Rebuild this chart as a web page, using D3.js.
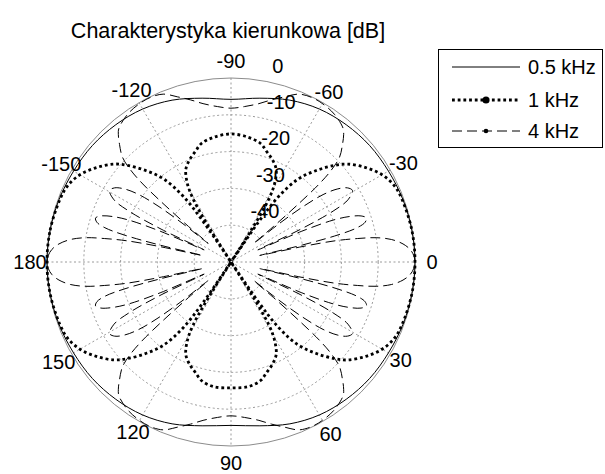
<!DOCTYPE html>
<html>
<head>
<meta charset="utf-8">
<script src="https://cdn.jsdelivr.net/npm/d3@7"></script>
<style>
  html, body { margin: 0; padding: 0; background: #fff; }
  svg { display: block; }
  text { font-family: "Liberation Sans", Arial, sans-serif; fill: #000; }
</style>
</head>
<body>
<svg id="chart" width="605" height="474"></svg>
<script>
// ---------------- data ----------------
const chartTitle = "Charakterystyka kierunkowa [dB]";
const seriesNames = ["0.5 kHz", "1 kHz", "4 kHz"];

// angle in degrees (0 = right, positive = clockwise), level in dB
const angles05k = [-180,-170,-160,-150,-140,-130,-120,-110,-100,-90,-80,-70,-60,-50,-40,-30,-20,-10,0,10,20,30,40,50,60,70,80,90,100,110,120,130,140,150,160,170];
const db05k = [0,-0.1,-0.3,-0.6,-0.8,-1.3,-2.0,-3.2,-4.8,-5.8,-4.8,-3.2,-2.0,-1.3,-0.8,-0.6,-0.3,-0.1,0,-0.1,-0.3,-0.6,-0.8,-1.3,-2.0,-3.2,-4.8,-5.6,-4.8,-3.2,-2.0,-1.3,-0.8,-0.6,-0.3,-0.1];

const angles1k = [-180,-170,-160,-155,-150,-145,-140,-137,-133,-129,-126,-124.5,-123.5,-122.5,-121,-119,-116,-112,-108,-104,-98,-90,
  -82,-76,-72,-68,-64,-61,-59,-57.5,-56.5,-55.5,-54,-51,-47,-43,-40,-35,-30,-25,-20,-10,0,
  10,20,25,30,35,40,43,47,51,54,55.5,56.5,57.5,59,61,64,68,72,76,82,90,
  98,104,108,112,116,119,121,122.5,123.5,124.5,126,129,133,137,140,145,150,155,160,170];
const db1k = [0,-0.1,-0.5,-1.0,-2.6,-5.3,-8.6,-11.5,-16,-21,-28,-37,-60,-40,-30,-25.5,-22,-20,-18.5,-16.8,-15.8,-15.2,
  -15.8,-16.8,-18.5,-20,-22,-25.5,-30,-40,-60,-37,-28,-21,-16,-11.5,-8.6,-5.3,-2.6,-1.0,-0.5,-0.1,0,
  -0.1,-0.5,-1.0,-2.6,-5.3,-8.6,-11.5,-16,-21,-28,-37,-60,-40,-30,-25.5,-22,-20,-18.5,-16.8,-15.8,-15.8,
  -15.8,-16.8,-18.5,-20,-22,-25.5,-30,-40,-60,-37,-28,-21,-16,-11.5,-8.6,-5.3,-2.6,-1.0,-0.5,-0.1];

const angles4k = [-180,-178,-176,-174,-172,-170.5,-169.5,-168.5,-167.8,-167.2,-166.6,-165.8,-164.8,-163.5,-162,-160.5,-159,-157.7,-156.5,-155.7,-154.8,-153.5,-152,-149.5,-147.5,-145.5,-143.8,-142.5,-141.5,-140.8,-140.1,-139.3,-138.5,-137.5,-136,-133.5,-131.5,-130,-125,-120,-116,-112,-108,-104,-100,-95,-90,
  -85,-80,-76,-72,-68,-64,-60,-55,-50,-48.5,-46.5,-44,-42.5,-41.5,-40.7,-39.9,-39.2,-38.5,-37.5,-36.2,-34.5,-32.5,-30.5,-28,-26.5,-25.2,-24.3,-23.5,-22.3,-21,-19.5,-18,-16.5,-15.2,-14.2,-13.4,-12.8,-12.2,-11.5,-10.5,-9.5,-8,-6,-4,-2,0,
  2,4,6,8,9.5,10.5,11.5,12.2,12.8,13.4,14.2,15.2,16.5,18,19.5,21,22.3,23.5,24.3,25.2,26.5,28,30.5,32.5,34.5,36.2,37.5,38.5,39.2,39.9,40.7,41.5,42.5,44,46.5,48.5,50,55,60,64,68,72,76,80,85,90,
  95,100,104,108,112,116,120,125,130,131.5,133.5,136,137.5,138.5,139.3,140.1,140.8,141.5,142.5,143.8,145.5,147.5,149.5,152,153.5,154.8,155.7,156.5,157.7,159,160.5,162,163.5,164.8,165.8,166.6,167.2,167.8,168.5,169.5,170.5,172,174,176,178];
const db4k = [0,-0.3,-1.2,-3,-6,-10,-15,-21,-30,-42,-30,-20,-14.5,-12,-11.3,-12.5,-15.5,-20,-29,-42,-29,-19,-14,-11.7,-12.5,-15,-19,-25,-33,-42,-35,-26,-18,-13,-9,-6,-3.8,-2.6,-1,-0.3,-0.2,-0.8,-2.8,-4.6,-6.3,-7.6,-8.2,
  -7.6,-6.3,-4.6,-2.8,-0.8,-0.2,-0.3,-1,-2.6,-3.8,-6,-9,-13,-18,-26,-35,-42,-33,-25,-19,-15,-12.5,-11.7,-14,-19,-29,-42,-29,-20,-15.5,-12.5,-11.3,-12,-14.5,-20,-30,-42,-30,-21,-15,-10,-6,-3,-1.2,-0.3,0,
  -0.3,-1.2,-3,-6,-10,-15,-21,-30,-42,-30,-20,-14.5,-12,-11.3,-12.5,-15.5,-20,-29,-42,-29,-19,-14,-11.7,-12.5,-15,-19,-25,-33,-42,-35,-26,-18,-13,-9,-6,-3.8,-2.6,-1,-0.3,-0.2,-0.8,-2.8,-4.6,-6.3,-7.6,-8.2,
  -7.6,-6.3,-4.6,-2.8,-0.8,-0.2,-0.3,-1,-2.6,-3.8,-6,-9,-13,-18,-26,-35,-42,-33,-25,-19,-15,-12.5,-11.7,-14,-19,-29,-42,-29,-20,-15.5,-12.5,-11.3,-12,-14.5,-20,-30,-42,-30,-21,-15,-10,-6,-3,-1.2,-0.3];

const ringValues = [-40, -30, -20, -10, 0];
const ringLabels = ["-40", "-30", "-20", "-10", "0"];
const spokeAngles = [0, 30, 60, 90, 120, 150, 180, 210, 240, 270, 300, 330];
const spokeLabels = ["0", "30", "60", "90", "120", "150", "180", "-150", "-120", "-90", "-60", "-30"];

// ---------------- layout ----------------
const cx = 231, cy = 262, R = 184;
const svg = d3.select("#chart");
const rScale = d3.scaleLinear().domain([-50, 0]).range([0, R]).clamp(true);
const toRad = d => d * Math.PI / 180;
const g = svg.append("g").attr("transform", `translate(${cx},${cy})`);

// grid: rings
g.selectAll("circle.ring").data(ringValues.filter(v => v < 0)).enter()
  .append("circle").attr("class", "ring")
  .attr("r", d => rScale(d))
  .attr("fill", "none").attr("stroke", "#9a9a9a").attr("stroke-width", 1)
  .attr("stroke-dasharray", "2,2.5");
// spokes
g.selectAll("line.spoke").data(spokeAngles.slice(0, 6)).enter()
  .append("line").attr("class", "spoke")
  .attr("x1", d => -R * Math.cos(toRad(d))).attr("y1", d => -R * Math.sin(toRad(d)))
  .attr("x2", d => R * Math.cos(toRad(d))).attr("y2", d => R * Math.sin(toRad(d)))
  .attr("stroke", "#9a9a9a").attr("stroke-width", 1).attr("stroke-dasharray", "2,2.5");
// outer circle
g.append("circle").attr("r", rScale(0)).attr("fill", "none")
  .attr("stroke", "#8c8c8c").attr("stroke-width", 1);

// ring labels
const la = toRad(8.5);
g.selectAll("text.rlab").data(ringValues).enter()
  .append("text").attr("class", "rlab")
  .attr("x", d => rScale(d) * Math.sin(la) + 14)
  .attr("y", d => -rScale(d) * Math.cos(la) - 14.5)
  .attr("dominant-baseline", "central")
  .attr("font-size", 20)
  .text((d, i) => ringLabels[i]);

// spoke labels (label radius depends slightly on direction, as in the reference)
const labRadius = a => { const m = a % 90; return m === 0 ? 201 : (m === 30 ? 196 : 199); };
g.selectAll("text.slab").data(spokeAngles).enter()
  .append("text").attr("class", "slab")
  .attr("x", d => labRadius(d) * Math.cos(toRad(d)))
  .attr("y", d => labRadius(d) * Math.sin(toRad(d)))
  .attr("text-anchor", "middle").attr("dominant-baseline", "central")
  .attr("font-size", 20)
  .text((d, i) => spokeLabels[i]);

// series
const lineR = d3.lineRadial()
  .angle(d => toRad(d.a + 90))
  .radius(d => rScale(d.v))
  .curve(d3.curveCatmullRomClosed.alpha(0.5));

const series = [
  { name: seriesNames[0], data: angles05k.map((a, i) => ({ a, v: db05k[i] })), width: 1, dash: null },
  { name: seriesNames[1], data: angles1k.map((a, i) => ({ a, v: db1k[i] })), width: 2.8, dash: "2.8,2.9" },
  { name: seriesNames[2], data: angles4k.map((a, i) => ({ a, v: db4k[i] })), width: 1, dash: "10,5" }
];

series.forEach(s => {
  g.append("path").datum(s.data)
    .attr("d", lineR)
    .attr("fill", "none").attr("stroke", "#000")
    .attr("stroke-width", s.width)
    .attr("stroke-dasharray", s.dash);
});

// title
svg.append("text").attr("x", 228).attr("y", 31)
  .attr("text-anchor", "middle").attr("dominant-baseline", "central")
  .attr("font-size", 21.5).text(chartTitle);

// legend
const lg = svg.append("g");
lg.append("rect").attr("x", 438.5).attr("y", 49.5).attr("width", 164).attr("height", 98)
  .attr("fill", "#fff").attr("stroke", "#000").attr("stroke-width", 1);
const rowsY = [67, 100, 131];
series.forEach((s, i) => {
  const y = rowsY[i];
  lg.append("line").attr("x1", 452).attr("x2", 520).attr("y1", y).attr("y2", y)
    .attr("stroke", "#000").attr("stroke-width", s.width).attr("stroke-dasharray", s.dash);
  if (i === 1) lg.append("circle").attr("cx", 486).attr("cy", y).attr("r", 3.6).attr("fill", "#000");
  if (i === 2) lg.append("circle").attr("cx", 486).attr("cy", y).attr("r", 2.3).attr("fill", "#000");
  lg.append("text").attr("x", 528).attr("y", y).attr("dominant-baseline", "central")
    .attr("font-size", 20).text(s.name);
});
</script>
</body>
</html>
